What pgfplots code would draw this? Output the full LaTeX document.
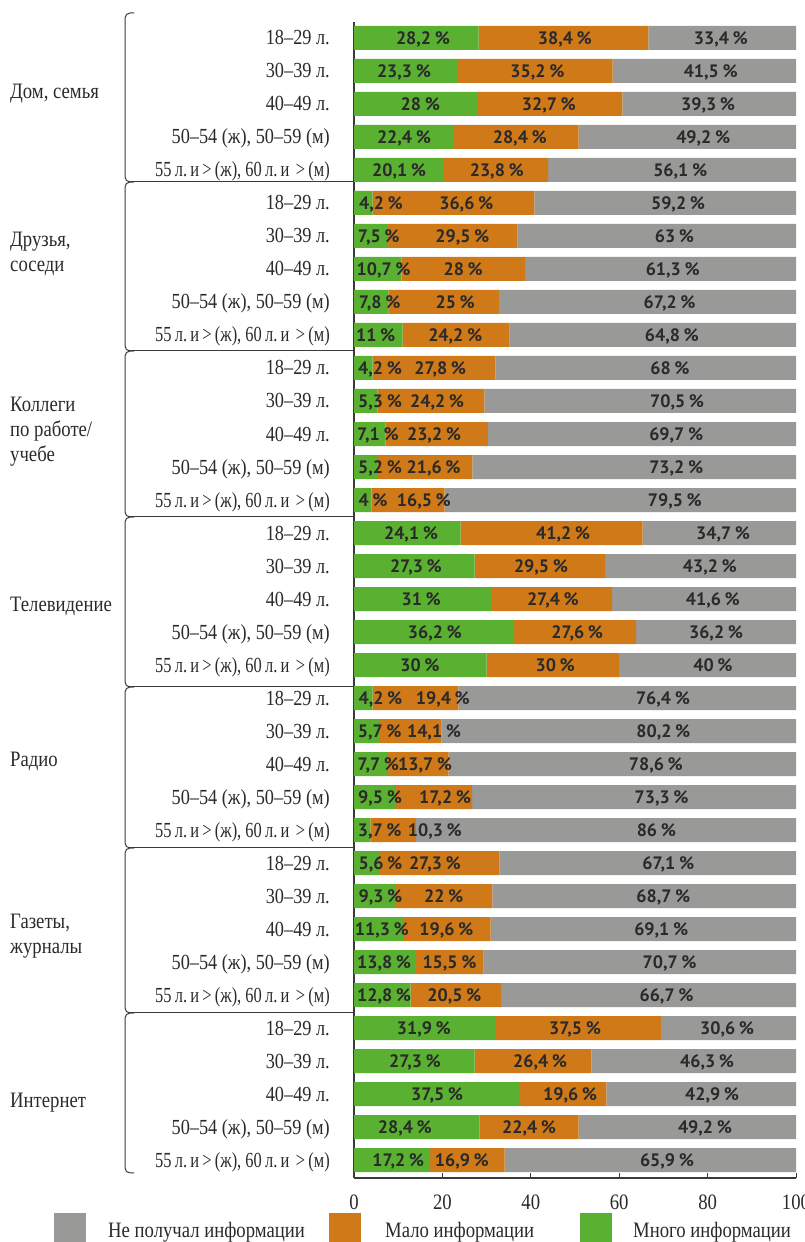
\documentclass[border=0pt]{standalone}
\usepackage{fontspec}
\usepackage{graphicx}
\usepackage{pgfplots}
\usepackage{pgfplotstable}
\pgfplotsset{compat=1.18}
\setmainfont{Liberation Serif}[FakeStretch=0.85]
\newfontfamily\labfont{PT Sans}
\definecolor{cgreen}{HTML}{5AB031}
\definecolor{corange}{HTML}{CF7918}
\definecolor{cgray}{HTML}{999998}
\definecolor{ctext}{HTML}{2A2A2A}
\definecolor{cline}{HTML}{3A3A3A}

\pgfplotstableread{
y g o r lg lo lr
0 28.2 38.4 33.4 15.6 47.7 83.0
-1 23.3 35.2 41.5 11.3 41.5 80.7
-2 28 32.7 39.3 15.0 44.1 80.1
-3 22.4 28.4 49.2 11.3 37.5 79.0
-4 20.1 23.8 56.1 10.2 32.3 73.8
-5 4.2 36.6 59.2 6.1 25.4 73.3
-6 7.5 29.5 63 5.6 24.5 72.5
-7 10.7 28 61.3 6.7 24.7 72.1
-8 7.8 25 67.2 5.8 22.9 71.4
-9 11 24.2 64.8 4.9 22.9 71.9
-10 4.2 27.8 68 5.9 19.5 71.5
-11 5.3 24.2 70.5 5.9 18.8 73.1
-12 7.1 23.2 69.7 5.4 18.1 72.9
-13 5.2 21.6 73.2 5.9 18.0 72.9
-14 4 16.5 79.5 4.3 15.8 72.6
-15 24.1 41.2 34.7 12.9 47.3 83.5
-16 27.3 29.5 43.2 14.0 42.3 80.5
-17 31 27.4 41.6 15.2 45.0 81.2
-18 36.2 27.6 36.2 18.3 50.5 81.9
-19 30 30 40 14.9 45.5 81.2
-20 4.2 19.4 76.4 6.0 20.1 69.9
-21 5.7 14.1 80.2 5.8 18.1 70.0
-22 7.7 13.7 78.6 5.5 16.1 68.3
-23 9.5 17.2 73.3 5.9 20.6 69.6
-24 3.7 10.3 86 5.8 18.3 68.4
-25 5.6 27.3 67.1 6.0 18.3 71.1
-26 9.3 22 68.7 6.0 20.3 70.0
-27 11.3 19.6 69.1 6.3 20.9 69.5
-28 13.8 15.5 70.7 6.8 21.6 71.4
-29 12.8 20.5 66.7 6.8 22.7 70.7
-30 31.9 37.5 30.6 15.8 50.0 84.4
-31 27.3 26.4 46.3 13.8 42.1 79.9
-32 37.5 19.6 42.9 18.8 48.9 81.0
-33 28.4 22.4 49.2 11.5 39.6 79.4
-34 17.2 16.9 65.9 10.0 24.4 70.8
}\data

\protected\def\aA{18–29 л.}
\protected\def\aB{30–39 л.}
\protected\def\aC{40–49 л.}
\protected\def\aD{50–54 (ж), 50–59 (м)}
\protected\def\aE{\scalebox{0.9}[1]{55\,л.\,и\,>\,(ж), 60\,л.\,и\,\,>\,(м)}}

\pgfplotsset{
  common/.style={
    at={(354pt,64pt)}, anchor=south west, scale only axis,
    width=442pt, height=1156pt,
    xmin=0, xmax=100, ymin=-34.545, ymax=0.485,
    clip=false,
    /pgf/number format/assume math mode=true,
  }
}

\begin{document}
\begin{tikzpicture}
\path[use as bounding box] (0,0) rectangle (804pt,1242pt);

\begin{axis}[common,
  xbar stacked, bar width=24pt,
  axis x line=bottom, axis y line=left,
  axis line style={-, draw=cline, line width=1.2pt},
  xtick={0,20,40,60,80,100},
  tick align=inside,
  major tick length=5pt,
  x tick style={draw=cline, line width=1pt},
  ytick={-34,-33,...,0},
  y tick style={draw=none},
  yticklabels={{\aE},{\aD},{\aC},{\aB},{\aA},
               {\aE},{\aD},{\aC},{\aB},{\aA},
               {\aE},{\aD},{\aC},{\aB},{\aA},
               {\aE},{\aD},{\aC},{\aB},{\aA},
               {\aE},{\aD},{\aC},{\aB},{\aA},
               {\aE},{\aD},{\aC},{\aB},{\aA},
               {\aE},{\aD},{\aC},{\aB},{\aA}},
  yticklabel style={font=\fontsize{21.5}{22}\selectfont, anchor=base east, inner sep=0pt, xshift=-24pt, yshift=-7pt, text=ctext},
  xticklabel style={font=\fontsize{22}{22}\selectfont, anchor=base, inner sep=0pt, yshift=-32pt, text=ctext},
]
\addplot[fill=cgreen, draw=none] table[x=g, y=y]{\data};
\addplot[fill=corange, draw=none] table[x=o, y=y]{\data};
\addplot[fill=cgray, draw=none] table[x=r, y=y]{\data};
\end{axis}

\begin{axis}[common, hide axis,
  point meta=explicit,
  nodes near coords={\pgfmathprintnumber[fixed, precision=1, use comma]{\pgfplotspointmeta}\hspace{0.2em}\%},
  every node near coord/.style={anchor=base, yshift=-6.5pt, inner sep=0pt, font=\labfont\bfseries\fontsize{18}{18}\selectfont, text=ctext},
]
\addplot[draw=none, mark=none] table[x=lg, y=y, meta=g]{\data};
\addplot[draw=none, mark=none] table[x=lo, y=y, meta=o]{\data};
\addplot[draw=none, mark=none] table[x=lr, y=y, meta=r]{\data};
\end{axis}

% group brackets and separators
\begin{scope}[draw=cline, line width=1pt]
\foreach \t/\b in {1229/1060, 1060/891, 891/725, 725/555, 555/394, 394/229, 229/69}{
  \draw[rounded corners=5pt] (134pt,\t pt) -- (125pt,\t pt) -- (125pt,\b pt) -- (134pt,\b pt);
}
\foreach \s in {1060, 891, 725, 555, 394, 229}{
  \draw (128pt,\s pt) -- (354pt,\s pt);
}
\end{scope}

% group labels
\begin{scope}[every node/.style={anchor=base west, inner sep=0pt, text=ctext, font=\fontsize{22}{22}\selectfont}]
\node at (10pt,1143pt) {Дом, семья};
\node at (10pt,995pt) {Друзья,};
\node at (10pt,970pt) {соседи};
\node at (10pt,830pt) {Коллеги};
\node at (10pt,805pt) {по работе/};
\node at (10pt,780pt) {учебе};
\node at (10pt,630pt) {Телевидение};
\node at (10pt,475pt) {Радио};
\node at (10pt,313pt) {Газеты,};
\node at (10pt,288pt) {журналы};
\node at (10pt,134pt) {Интернет};
\end{scope}

% legend
\fill[cgray] (54pt,0pt) rectangle (86pt,29pt);
\fill[corange] (329pt,0pt) rectangle (361pt,29pt);
\fill[cgreen] (580pt,0pt) rectangle (612pt,29pt);
\begin{scope}[every node/.style={anchor=base west, inner sep=0pt, text=ctext, font=\fontsize{22}{22}\selectfont}]
\node at (108pt,5pt) {Не получал информации};
\node at (385pt,5pt) {Мало информации};
\node at (633pt,5pt) {Много информации};
\end{scope}
\end{tikzpicture}
\end{document}
